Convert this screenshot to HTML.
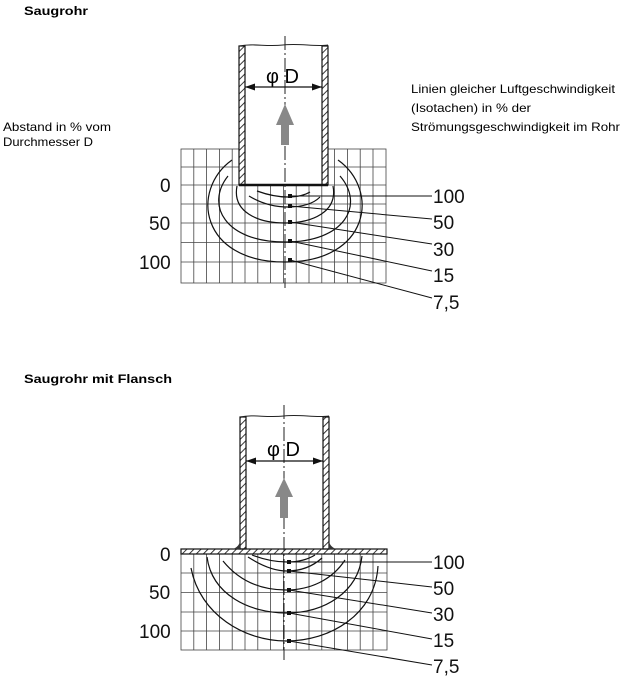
<!DOCTYPE html>
<html><head><meta charset="utf-8"><style>
html,body{margin:0;padding:0;background:#fff;}
svg{display:block;}
text{font-family:"Liberation Sans",Arial,sans-serif;}
</style></head><body>
<svg width="626" height="680" viewBox="0 0 626 680" xmlns="http://www.w3.org/2000/svg">
<defs>
<pattern id="hat" patternUnits="userSpaceOnUse" width="5" height="5" patternTransform="rotate(45)">
<line x1="0" y1="0" x2="0" y2="5" stroke="#222" stroke-width="1.8"/>
</pattern>
</defs>

<!-- titles -->
<text x="24" y="15" font-size="12" font-weight="bold" textLength="64" lengthAdjust="spacingAndGlyphs">Saugrohr</text>
<text x="24" y="383" font-size="12" font-weight="bold" textLength="148" lengthAdjust="spacingAndGlyphs">Saugrohr mit Flansch</text>
<text x="3" y="131" font-size="12" textLength="108" lengthAdjust="spacingAndGlyphs">Abstand in % vom</text>
<text x="3" y="146" font-size="12" textLength="90" lengthAdjust="spacingAndGlyphs">Durchmesser D</text>
<text x="411" y="93" font-size="12" textLength="204" lengthAdjust="spacingAndGlyphs">Linien gleicher Luftgeschwindigkeit</text>
<text x="411" y="112" font-size="12" textLength="120" lengthAdjust="spacingAndGlyphs">(Isotachen) in % der</text>
<text x="411" y="131" font-size="12" textLength="209" lengthAdjust="spacingAndGlyphs">Strömungsgeschwindigkeit im Rohr</text>

<!-- ===== Diagram 1 ===== -->
<g stroke="#444" stroke-width="0.8" fill="none">
<rect x="181" y="149" width="205" height="134"/>
<path d="M193.8,149V283M206.6,149V283M219.4,149V283M232.2,149V283M245,149V283M257.8,149V283M270.6,149V283M283.4,149V283M296.2,149V283M309,149V283M321.8,149V283M334.6,149V283M347.4,149V283M360.2,149V283M373,149V283"/>
<path d="M181,167H386M181,185H386M181,204H386M181,223H386M181,242.5H386M181,262H386"/>
</g>
<rect x="239" y="44" width="89" height="141" fill="#fff"/>
<rect x="239" y="46" width="6" height="139" fill="url(#hat)" stroke="#111" stroke-width="1.2"/>
<rect x="322" y="46" width="6" height="139" fill="url(#hat)" stroke="#111" stroke-width="1.2"/>
<path d="M239,46 C255,43 265,47 283,45 C300,43 315,47 328,45" stroke="#222" stroke-width="1" fill="none"/>
<line x1="239" y1="185" x2="328" y2="185" stroke="#111" stroke-width="2.5"/>
<line x1="285" y1="36" x2="285" y2="288" stroke="#222" stroke-width="1" stroke-dasharray="14,3,2,3"/>
<text x="266" y="83" font-size="20">φ D</text>
<g stroke="#111" stroke-width="1.2" fill="#111">
<line x1="245" y1="87" x2="322" y2="87"/>
<path d="M245,87 l10,-3.5 v7z M322,87 l-10,-3.5 v7z" stroke="none"/>
</g>
<path d="M285,104 L294,125 L289,125 L289,145 L281,145 L281,125 L276,125Z" fill="#888"/>
<g stroke="#111" stroke-width="1.2" fill="none">
<path d="M232,160 C190,190 200,262 285,262 C370,262 380,190 338,160"/>
<path d="M228,176 C205,205 225,242 285,242 C345,242 365,205 340,176"/>
<path d="M237,186 C232,212 258,223 285,223 C312,223 338,212 333,186"/>
<path d="M249,196 C262,204 275,207 288,207 C302,207 313,204 320,197"/>
<path d="M257,191 C268,195 278,197 288,197 C298,197 305,195 310,192"/>
</g>
<g fill="#111"><rect x="288" y="194" width="4" height="4"/><rect x="288" y="204" width="4" height="4"/><rect x="288" y="220" width="4" height="4"/><rect x="288" y="239" width="4" height="4"/><rect x="288" y="258" width="4" height="4"/></g>
<g stroke="#111" stroke-width="1" fill="none">
<path d="M290,196 L432,196 M290,206 L432,219 M290,222 L432,244 M290,241 L432,271 M290,260 L432,298"/>
</g>
<g font-size="19" fill="#111">
<text x="433" y="203">100</text><text x="433" y="229">50</text><text x="433" y="256">30</text><text x="433" y="282">15</text><text x="433" y="309">7,5</text>
<text x="160" y="192">0</text><text x="149" y="230">50</text><text x="139" y="269">100</text>
</g>

<!-- ===== Diagram 2 ===== -->
<g stroke="#444" stroke-width="0.8" fill="none">
<rect x="181" y="554" width="206" height="96"/>
<path d="M193.8,554V650M206.6,554V650M219.4,554V650M232.2,554V650M245,554V650M257.8,554V650M270.6,554V650M283.4,554V650M296.2,554V650M309,554V650M321.8,554V650M334.6,554V650M347.4,554V650M360.2,554V650M373,554V650"/>
<path d="M181,573H387M181,592.5H387M181,612H387M181,631H387"/>
</g>
<rect x="240" y="417" width="6" height="132" fill="url(#hat)" stroke="#111" stroke-width="1.2"/>
<rect x="323" y="417" width="6" height="132" fill="url(#hat)" stroke="#111" stroke-width="1.2"/>
<rect x="181" y="549" width="206" height="5" fill="url(#hat)" stroke="#111" stroke-width="1.2"/>
<path d="M233,549 Q240,546 240,540 L240,549Z M336,549 Q329,546 329,540 L329,549Z" fill="#333"/>
<path d="M240,417 C255,414 265,418 284,416 C300,414 315,418 329,416" stroke="#222" stroke-width="1" fill="none"/>
<line x1="284" y1="405" x2="284" y2="660" stroke="#222" stroke-width="1" stroke-dasharray="14,3,2,3"/>
<text x="267" y="456" font-size="20">φ D</text>
<g stroke="#111" stroke-width="1.2" fill="#111">
<line x1="246" y1="461" x2="323" y2="461"/>
<path d="M246,461 l10,-3.5 v7z M323,461 l-10,-3.5 v7z" stroke="none"/>
</g>
<path d="M284,478 L293,497 L288,497 L288,518 L280,518 L280,497 L275,497Z" fill="#888"/>
<g stroke="#111" stroke-width="1.2" fill="none">
<path d="M191,568 C200,615 245,641 286,641 C330,641 375,615 378,566"/>
<path d="M207,557 C212,595 250,613 286,613 C325,613 358,592 362,556"/>
<path d="M223,561 C240,582 262,590 286,590 C310,590 332,580 345,560"/>
<path d="M248,557 C262,566 275,571 287,571 C300,571 312,567 322,558"/>
<path d="M252,555 C265,560 276,562 287,562 C298,562 307,560 315,555"/>
</g>
<g fill="#111"><rect x="287" y="560" width="4" height="4"/><rect x="287" y="569" width="4" height="4"/><rect x="287" y="588" width="4" height="4"/><rect x="287" y="611" width="4" height="4"/><rect x="287" y="639" width="4" height="4"/></g>
<g stroke="#111" stroke-width="1" fill="none">
<path d="M289,562 L432,562 M289,571 L432,587 M289,590 L432,613 M289,613 L432,639 M289,641 L432,665"/>
</g>
<g font-size="19" fill="#111">
<text x="433" y="569">100</text><text x="433" y="595">50</text><text x="433" y="621">30</text><text x="433" y="647">15</text><text x="433" y="673">7,5</text>
<text x="160" y="561">0</text><text x="149" y="599">50</text><text x="139" y="638">100</text>
</g>
</svg>
</body></html>
